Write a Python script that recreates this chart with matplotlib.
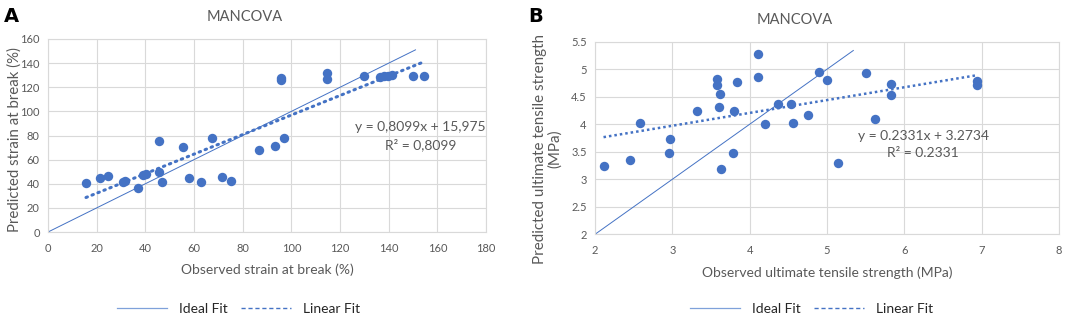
import numpy as np
import matplotlib
matplotlib.use("Agg")
import matplotlib.pyplot as plt
from matplotlib.lines import Line2D

plt.rcParams['font.family'] = ['Lato', 'DejaVu Sans']

# ---- panel A data: strain at break (%) ----
obs_strain = [15.6, 21.4, 24.8, 30.7, 31.6, 37.1, 39.2, 40.3, 45.8, 45.6, 46.7,
              55.6, 57.8, 62.9, 67.3, 71.5, 75.3, 86.6, 93.3, 97.0, 95.8, 95.8,
              114.5, 114.5, 129.9, 136.5, 138.0, 139.5, 141.5, 149.8, 154.5]
pred_strain = [40.5, 45.0, 46.3, 41.2, 42.0, 36.2, 47.4, 48.1, 75.3, 50.0, 41.8,
               70.8, 45.0, 41.7, 78.1, 45.3, 42.5, 68.3, 71.4, 78.1, 126.3, 128.0,
               131.4, 127.0, 129.5, 128.4, 129.2, 129.5, 130.0, 129.5, 129.5]
slope_a, icpt_a = 0.8099, 15.975
ideal_a = [0, 151]

# ---- panel B data: ultimate tensile strength (MPa) ----
obs_uts = [2.11, 2.45, 2.58, 2.97, 2.96, 3.32, 3.58, 3.58, 3.62, 3.60, 3.63,
           3.79, 3.80, 3.84, 4.11, 4.11, 4.20, 4.36, 4.53, 4.56, 4.75, 4.89,
           5.00, 5.14, 5.50, 5.62, 5.83, 5.83, 6.94, 6.94]
pred_uts = [3.25, 3.35, 4.02, 3.73, 3.48, 4.24, 4.82, 4.71, 4.55, 4.31, 3.19,
            3.47, 4.24, 4.76, 5.27, 4.86, 4.01, 4.36, 4.36, 4.03, 4.16, 4.95,
            4.80, 3.29, 4.93, 4.09, 4.74, 4.53, 4.79, 4.71]
slope_b, icpt_b = 0.2331, 3.2734
ideal_b = [2, 5.34]

blue = '#4472C4'
grid_c = '#D9D9D9'
txt_c = '#595959'

fig = plt.figure(figsize=(10.65, 3.17), dpi=100)
axA = fig.add_axes([0.0451, 0.2681, 0.4113, 0.6089])
axB = fig.add_axes([0.5587, 0.2609, 0.4357, 0.6076])


def style(ax, title_x):
    ax.grid(True, color=grid_c, lw=0.8)
    ax.set_axisbelow(True)
    for s in ax.spines.values():
        s.set_color(grid_c)
        s.set_linewidth(0.8)
    ax.tick_params(length=0, labelsize=8, labelcolor=txt_c)
    ax.tick_params(axis='x', pad=8)
    ax.tick_params(axis='y', pad=6)
    ax.set_title('MANCOVA', fontsize=10.5, color=txt_c, pad=13, x=title_x)


# panel A
style(axA, 0.45)
axA.plot(ideal_a, ideal_a, color=blue, lw=0.7, zorder=2)
xa = np.array([min(obs_strain), max(obs_strain)])
axA.plot(xa, slope_a * xa + icpt_a, color=blue, lw=2.2,
         linestyle=(0, (0.5, 1.6)), dash_capstyle='round', zorder=3)
axA.scatter(obs_strain, pred_strain, s=46, color=blue, zorder=4, linewidths=0)
axA.set_xlim(0, 180)
axA.set_ylim(0, 160)
axA.set_xticks(np.arange(0, 181, 20))
axA.set_yticks(np.arange(0, 161, 20))
axA.set_xlabel('Observed strain at break (%)', fontsize=10, color=txt_c, labelpad=7)
axA.set_ylabel('Predicted strain at break (%)', fontsize=10.8, color=txt_c)
axA.yaxis.set_label_coords(-0.059, 0.477)
axA.text(0.85, 0.496, 'y = 0,8099x + 15,975\nR² = 0,8099', transform=axA.transAxes,
         ha='center', va='center', fontsize=10, color=txt_c, linespacing=1.5)

# panel B
style(axB, 0.43)
axB.plot(ideal_b, ideal_b, color=blue, lw=0.7, zorder=2)
xb = np.array([min(obs_uts), max(obs_uts)])
axB.plot(xb, slope_b * xb + icpt_b, color=blue, lw=1.8,
         linestyle=(0, (1, 1.2)), zorder=3)
axB.scatter(obs_uts, pred_uts, s=46, color=blue, zorder=4, linewidths=0)
axB.set_xlim(2, 8)
axB.set_ylim(2, 5.5)
axB.set_xticks(np.arange(2, 9, 1))
axB.set_yticks(np.arange(2, 5.51, 0.5))
axB.set_yticklabels(['2', '2.5', '3', '3.5', '4', '4.5', '5', '5.5'])
axB.set_xlabel('Observed ultimate tensile strength (MPa)', fontsize=10, color=txt_c, labelpad=7)
# two-line y label, one text per line so both stay centred
for lx, line in [(-0.1185, 'Predicted ultimate tensile strength'), (-0.086, '(MPa)')]:
    axB.text(lx, 0.443, line, transform=axB.transAxes, rotation=90,
             ha='center', va='center', fontsize=10.9, color=txt_c)
axB.text(0.7075, 0.464, 'y = 0.2331x + 3.2734\nR² = 0.2331', transform=axB.transAxes,
         ha='center', va='center', fontsize=10, color=txt_c, linespacing=1.5)

# panel letters
fig.text(0.004, 0.93, 'A', fontsize=14, fontweight='bold', family='DejaVu Sans')
fig.text(0.496, 0.93, 'B', fontsize=14, fontweight='bold', family='DejaVu Sans')

# legends
handles = [Line2D([], [], color='#7FA1DA', lw=0.9),
           Line2D([], [], color=blue, lw=1.0, linestyle=(0, (3, 2)))]
labels = ['Ideal Fit', 'Linear Fit']
for cx in [0.224, 0.762]:
    fig.legend(handles, labels, loc='center', bbox_to_anchor=(cx, 0.025), ncol=2,
               frameon=False, fontsize=10, handlelength=3.6, columnspacing=0.9,
               handletextpad=0.9, labelcolor='#262626')

fig.savefig('out.png', dpi=100)
